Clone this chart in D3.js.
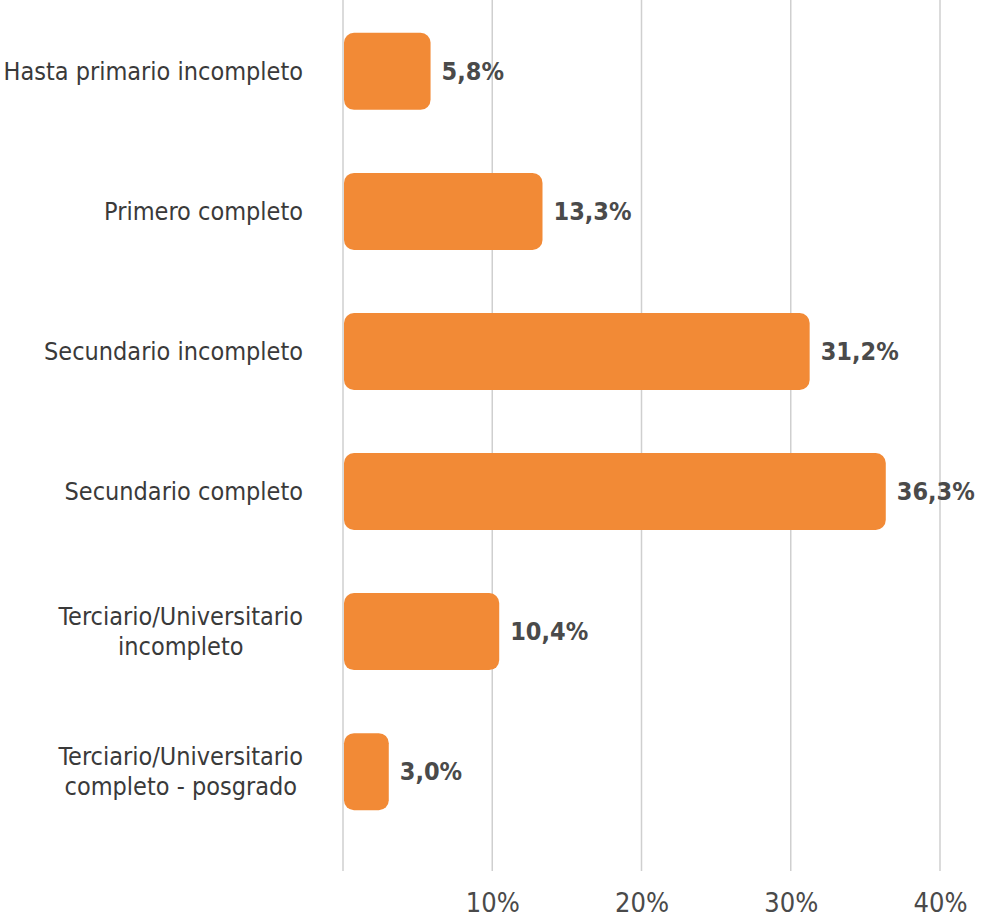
<!DOCTYPE html>
<html>
<head>
<meta charset="utf-8">
<script src="https://cdn.jsdelivr.net/npm/d3@7"></script>
<style>
  body { margin: 0; background: #fff; }
  text { font-family: "Liberation Sans Narrow", "DejaVu Sans Condensed", "Roboto", sans-serif; }
</style>
</head>
<body>
<svg id="chart"></svg>
<script>
const w = 982, h = 923,
  p = { left: 343, right: 42, top: 2, bottom: 82 },
  labelRight = 303,
  barColor = "#F28A36",
  gridColor = "#cfcfcf",
  labelColor = "#3a3a3a",
  valueColor = "#4a4a4a";

const categories = [
  ["Hasta primario incompleto"],
  ["Primero completo"],
  ["Secundario incompleto"],
  ["Secundario completo"],
  ["Terciario/Universitario", "incompleto"],
  ["Terciario/Universitario", "completo - posgrado"]
];
const values = [5.8, 13.3, 31.2, 36.3, 10.4, 3.0];
const tickValues = [10, 20, 30, 40];
const valueFormat = v => v.toFixed(1).replace(".", ",") + "%";

const x = d3.scaleLinear()
  .domain([0, 40])
  .range([p.left, w - p.right]);

const y = d3.scaleBand()
  .domain(d3.range(categories.length))
  .range([p.top, h - p.bottom])
  .paddingInner(0.45)
  .paddingOuter(0.22);

const svg = d3.select("#chart")
  .attr("width", w)
  .attr("height", h)
  .attr("viewBox", [0, 0, w, h]);

// grid lines
svg.append("g")
  .selectAll("line")
  .data([0, ...tickValues])
  .join("line")
  .attr("x1", d => x(d))
  .attr("x2", d => x(d))
  .attr("y1", 0)
  .attr("y2", h - 52)
  .attr("stroke", gridColor)
  .attr("stroke-width", 1.5);

// x axis labels
const xAxis = d3.axisBottom(x)
  .tickValues(tickValues)
  .tickSize(0)
  .tickPadding(0)
  .tickFormat(d => d + "%");

svg.append("g")
  .attr("transform", `translate(0, ${h - 20})`)
  .call(xAxis)
  .call(g => g.select(".domain").remove())
  .call(g => g.selectAll("text")
    .attr("font-size", 27)
    .attr("fill", valueColor)
    .attr("dy", "0.35em"));

// bars
svg.append("g")
  .selectAll("rect")
  .data(values)
  .join("rect")
  .attr("x", x(0) + 1)
  .attr("y", (d, i) => y(i))
  .attr("width", d => x(d) - x(0))
  .attr("height", y.bandwidth())
  .attr("rx", 10)
  .attr("fill", barColor);

// value labels
svg.append("g")
  .selectAll("text")
  .data(values)
  .join("text")
  .attr("x", d => x(d) + 12)
  .attr("y", (d, i) => y(i) + y.bandwidth() / 2)
  .attr("dy", "0.35em")
  .attr("font-size", 25)
  .attr("font-weight", "bold")
  .attr("fill", valueColor)
  .text(valueFormat);

// category labels: block right-aligned, lines centred within it
const cat = svg.append("g")
  .selectAll("text")
  .data(categories)
  .join("text")
  .attr("text-anchor", "middle")
  .attr("font-size", 25)
  .attr("fill", labelColor);

cat.selectAll("tspan")
  .data(d => d.map((t, j) => ({ t, j, n: d.length })))
  .join("tspan")
  .attr("x", 0)
  .attr("y", d => (d.j - (d.n - 1) / 2) * 30)
  .attr("dy", "0.35em")
  .text(d => d.t);

cat.each(function(d, i) {
  const widest = d3.max(d3.select(this).selectAll("tspan").nodes(), n => n.getComputedTextLength());
  d3.select(this).attr("transform", `translate(${labelRight - widest / 2}, ${y(i) + y.bandwidth() / 2})`);
});
</script>
</body>
</html>
